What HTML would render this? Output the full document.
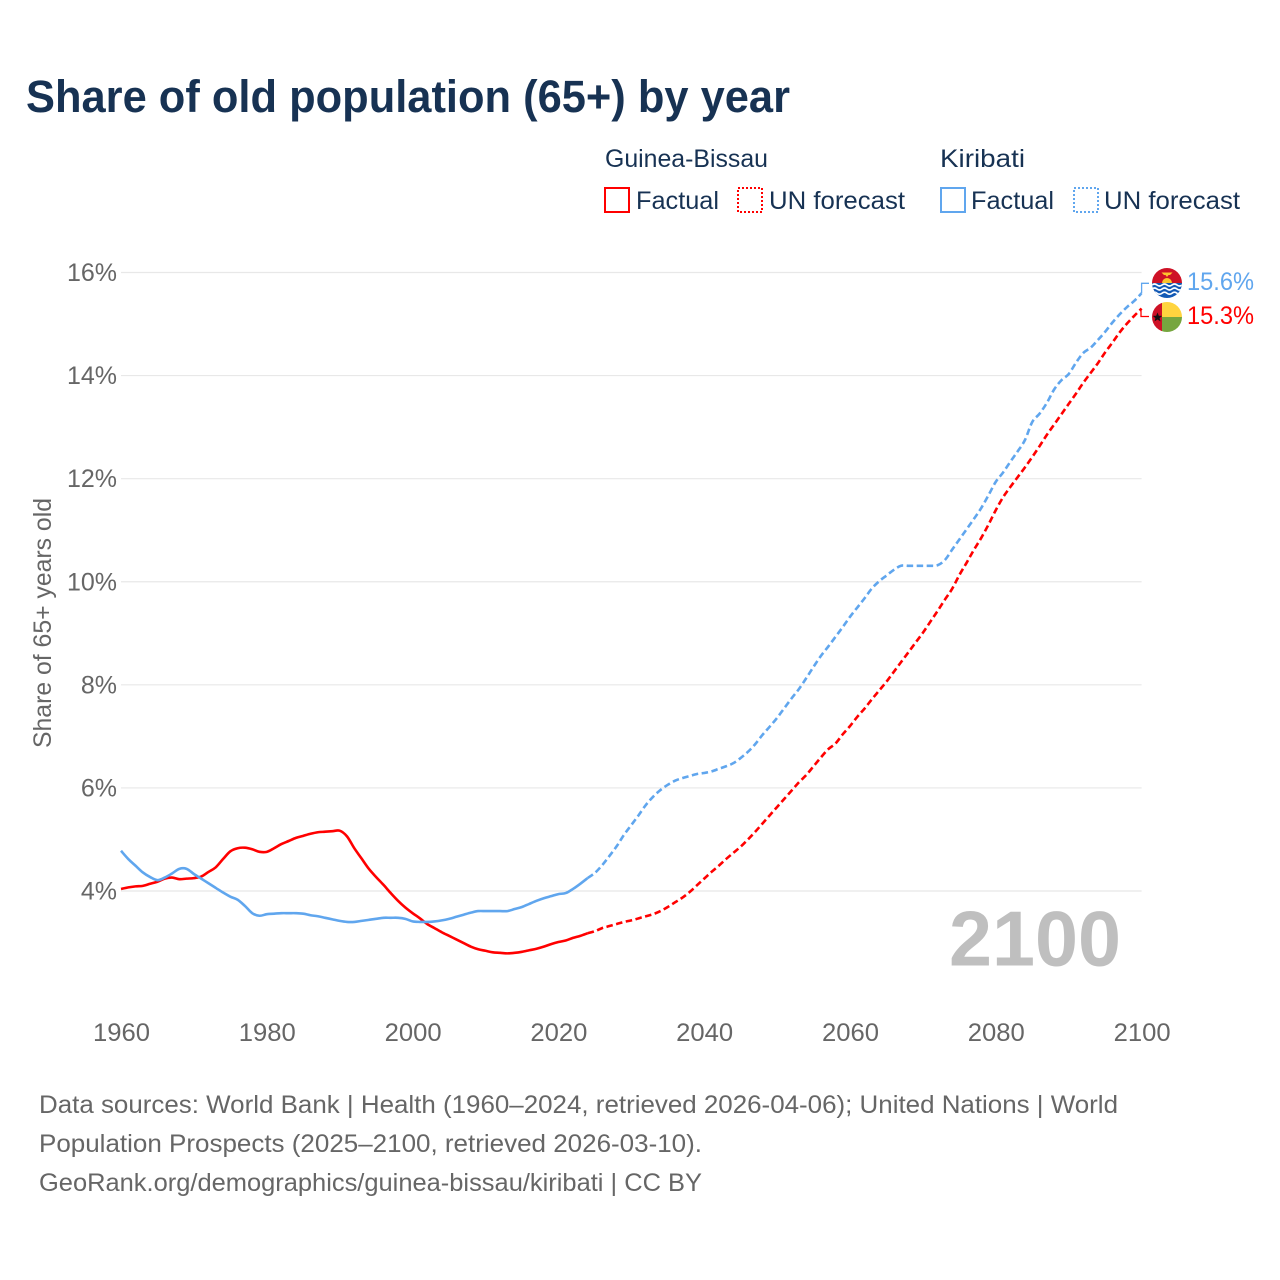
<!DOCTYPE html>
<html lang="en">
<head>
<meta charset="utf-8">
<title>Share of old population (65+) by year</title>
<style>
html,body{margin:0;padding:0;background:#fff;}
svg{display:block;font-family:"Liberation Sans",sans-serif;}
</style>
</head>
<body>
<svg id="chart" xmlns="http://www.w3.org/2000/svg" width="1280" height="1280" viewBox="0 0 1280 1280">
  <rect width="1280" height="1280" fill="#ffffff"/>
  <text x="26" y="112" font-size="45.5" font-weight="700" fill="#173253" textLength="764" lengthAdjust="spacingAndGlyphs">Share of old population (65+) by year</text>

  <g font-size="25" fill="#173253">
    <text x="605" y="167" textLength="163" lengthAdjust="spacingAndGlyphs">Guinea-Bissau</text>
    <text x="940" y="167" textLength="85" lengthAdjust="spacingAndGlyphs">Kiribati</text>
    <rect x="605" y="188" width="24" height="24" fill="none" stroke="#ff0000" stroke-width="2"/>
    <text x="636" y="209" textLength="83" lengthAdjust="spacingAndGlyphs">Factual</text>
    <rect x="738" y="188" width="24" height="24" fill="none" stroke="#ff0000" stroke-width="2" stroke-dasharray="2 2"/>
    <text x="769" y="209" textLength="136" lengthAdjust="spacingAndGlyphs">UN forecast</text>
    <rect x="941" y="188" width="24" height="24" fill="none" stroke="#60a6ee" stroke-width="2"/>
    <text x="971" y="209" textLength="83" lengthAdjust="spacingAndGlyphs">Factual</text>
    <rect x="1074" y="188" width="24" height="24" fill="none" stroke="#60a6ee" stroke-width="2" stroke-dasharray="2 2"/>
    <text x="1104" y="209" textLength="136" lengthAdjust="spacingAndGlyphs">UN forecast</text>
  </g>

  <g id="grid"></g>
  <g id="yticks" font-size="25" fill="#666666"></g>
  <g id="xticks" font-size="25" fill="#666666"></g>
  <text transform="translate(51,748) rotate(-90)" font-size="25" fill="#666666" textLength="250" lengthAdjust="spacingAndGlyphs">Share of 65+ years old</text>

  <text x="949" y="965.5" font-size="78" font-weight="700" fill="#bfbfbf" textLength="172" lengthAdjust="spacingAndGlyphs">2100</text>

  <g id="series"></g>

  <path d="M1149 283.3H1141.6V293" fill="none" stroke="#60a6ee" stroke-width="1.3"/>
  <path d="M1149 316.5H1141V308.5" fill="none" stroke="#ff0000" stroke-width="1.3"/>

  <defs>
    <clipPath id="clip-ki"><circle cx="1167" cy="283" r="15"/></clipPath>
    <clipPath id="clip-gw"><circle cx="1167" cy="317" r="15"/></clipPath>
  </defs>
  <g clip-path="url(#clip-ki)">
    <rect x="1152" y="268" width="30" height="15.5" fill="#ce1126"/>
    <rect x="1152" y="283" width="30" height="16" fill="#1259b5"/>
    <path d="M1162 283a5 5 0 0 1 10 0z" fill="#fcc42e"/>
    <path d="M1161.5 272.5h11l-2.5 2.5h-1.5l-1.5 2-1.5-2h-1.5z" fill="#fcc42e"/>
    <path d="M1152 285q2.5-2 5 0t5 0t5 0t5 0t5 0t5 0M1152 289q2.5-2 5 0t5 0t5 0t5 0t5 0t5 0M1152 293.2q2.5-2 5 0t5 0t5 0t5 0t5 0t5 0" fill="none" stroke="#ffffff" stroke-width="1.6"/>
  </g>
  <g clip-path="url(#clip-gw)">
    <rect x="1152" y="302" width="10" height="30" fill="#ce1126"/>
    <rect x="1162" y="302" width="20" height="15" fill="#ffd43f"/>
    <rect x="1162" y="317" width="20" height="15" fill="#76a63f"/>
    <path d="M1157.5 312.5l1.3 3.2 3.4.2-2.6 2.2.9 3.3-3-1.9-3 1.9.9-3.3-2.6-2.2 3.4-.2z" fill="#111111"/>
  </g>

  <text x="1187" y="290" font-size="25" fill="#60a6ee" textLength="67" lengthAdjust="spacingAndGlyphs">15.6%</text>
  <text x="1187" y="324" font-size="25" fill="#ff0000" textLength="67" lengthAdjust="spacingAndGlyphs">15.3%</text>

  <g font-size="25" fill="#666666">
    <text x="39" y="1113" textLength="1079" lengthAdjust="spacingAndGlyphs">Data sources: World Bank | Health (1960–2024, retrieved 2026-04-06); United Nations | World</text>
    <text x="39" y="1152" textLength="663" lengthAdjust="spacingAndGlyphs">Population Prospects (2025–2100, retrieved 2026-03-10).</text>
    <text x="39" y="1191" textLength="663" lengthAdjust="spacingAndGlyphs">GeoRank.org/demographics/guinea-bissau/kiribati | CC BY</text>
  </g>
</svg>

<script>
const yTickValues = [4, 6, 8, 10, 12, 14, 16];
const xTickYears = [1960, 1980, 2000, 2020, 2040, 2060, 2080, 2100];
const firstYear = 1960;
const lastFactualYear = 2024;

const guineaBissauValues = [
4.04,4.07,4.09,4.10,4.14,4.18,4.24,4.26,4.23,4.24,
4.25,4.28,4.37,4.46,4.62,4.77,4.83,4.84,4.81,4.76,
4.76,4.83,4.91,4.97,5.03,5.07,5.11,5.14,5.15,5.16,
5.17,5.06,4.83,4.63,4.43,4.27,4.12,3.96,3.81,3.68,
3.57,3.47,3.36,3.28,3.20,3.13,3.06,2.99,2.92,2.87,
2.84,2.81,2.80,2.79,2.80,2.82,2.85,2.88,2.92,2.97,
3.01,3.04,3.09,3.13,3.18,3.22,3.28,3.32,3.36,3.40,
3.43,3.47,3.51,3.55,3.61,3.69,3.78,3.87,3.98,4.11,
4.24,4.37,4.49,4.62,4.74,4.86,5.00,5.15,5.31,5.47,
5.63,5.79,5.95,6.11,6.25,6.42,6.59,6.75,6.86,7.04,
7.20,7.38,7.54,7.72,7.89,8.06,8.25,8.44,8.63,8.82,
9.01,9.22,9.43,9.65,9.86,10.13,10.37,10.62,10.85,11.11,
11.39,11.64,11.84,12.03,12.22,12.42,12.63,12.85,13.05,13.25,
13.45,13.65,13.86,14.05,14.24,14.45,14.64,14.84,15.01,15.16,
15.30];

const kiribatiValues = [
4.78,4.62,4.49,4.36,4.27,4.21,4.26,4.34,4.43,4.43,
4.33,4.24,4.15,4.06,3.97,3.89,3.83,3.71,3.57,3.52,
3.55,3.56,3.57,3.57,3.57,3.56,3.53,3.51,3.48,3.45,
3.42,3.40,3.40,3.42,3.44,3.46,3.48,3.48,3.48,3.46,
3.41,3.40,3.40,3.41,3.43,3.46,3.50,3.54,3.58,3.61,
3.61,3.61,3.61,3.61,3.65,3.69,3.75,3.81,3.86,3.90,
3.94,3.96,4.04,4.14,4.25,4.35,4.50,4.68,4.87,5.09,
5.28,5.47,5.67,5.83,5.96,6.06,6.14,6.19,6.23,6.27,
6.29,6.32,6.37,6.42,6.48,6.58,6.70,6.85,7.03,7.19,
7.36,7.55,7.74,7.92,8.13,8.35,8.56,8.74,8.93,9.12,
9.32,9.50,9.68,9.87,10.01,10.12,10.23,10.31,10.31,10.31,
10.31,10.31,10.32,10.42,10.62,10.82,11.02,11.22,11.43,11.68,
11.94,12.12,12.33,12.53,12.75,13.10,13.26,13.47,13.73,13.91,
14.03,14.25,14.44,14.54,14.69,14.85,15.03,15.19,15.33,15.45,
15.60];

const SVG_NS = 'http://www.w3.org/2000/svg';
function xScale(year) { return 121 + (year - 1960) * (1141.6 - 121) / 140; }
function yScale(value) { return 891 - (value - 4) * (891 - 272.5) / 12; }

const gridGroup = document.getElementById('grid');
const yTickGroup = document.getElementById('yticks');
const xTickGroup = document.getElementById('xticks');
const seriesGroup = document.getElementById('series');

yTickValues.forEach(function (v) {
  const line = document.createElementNS(SVG_NS, 'line');
  
  
  line.setAttribute('x1', 121);
  line.setAttribute('x2', 1141.6);
  line.setAttribute('y1', yScale(v));
  line.setAttribute('y2', yScale(v));
  line.setAttribute('stroke', '#e8e8e8');
  line.setAttribute('stroke-width', '1.2');
  gridGroup.appendChild(line);

  const label = document.createElementNS(SVG_NS, 'text');
  
  
  label.setAttribute('x', 117);
  label.setAttribute('y', yScale(v) + 8.5);
  label.setAttribute('text-anchor', 'end');
  label.textContent = v + '%';
  yTickGroup.appendChild(label);
});

xTickYears.forEach(function (year) {
  const label = document.createElementNS(SVG_NS, 'text');
  
  
  label.setAttribute('x', xScale(year) + 0.5);
  label.setAttribute('y', 1041);
  label.setAttribute('text-anchor', 'middle');
  label.setAttribute('textLength', '57');
  label.setAttribute('lengthAdjust', 'spacingAndGlyphs');
  label.textContent = year;
  xTickGroup.appendChild(label);
});

function linePath(values, fromYear, toYear) {
  const pts = [];
  values.forEach(function (v, i) {
    const year = firstYear + i;
    if (year < fromYear || year > toYear) return;
    pts.push([xScale(year), yScale(v)]);
  });
  let d = 'M' + pts[0][0].toFixed(2) + ' ' + pts[0][1].toFixed(2);
  for (let i = 0; i < pts.length - 1; i++) {
    const p0 = pts[Math.max(i - 1, 0)];
    const p1 = pts[i];
    const p2 = pts[i + 1];
    const p3 = pts[Math.min(i + 2, pts.length - 1)];
    const c1x = p1[0] + (p2[0] - p0[0]) / 6;
    const c1y = p1[1] + (p2[1] - p0[1]) / 6;
    const c2x = p2[0] - (p3[0] - p1[0]) / 6;
    const c2y = p2[1] - (p3[1] - p1[1]) / 6;
    d += 'C' + c1x.toFixed(2) + ' ' + c1y.toFixed(2) + ' ' + c2x.toFixed(2) + ' ' + c2y.toFixed(2) + ' ' + p2[0].toFixed(2) + ' ' + p2[1].toFixed(2);
  }
  return d;
}

function drawSeries(values, color, factualName, forecastName) {
  const lastYear = firstYear + values.length - 1;

  const forecast = document.createElementNS(SVG_NS, 'path');
  
  
  forecast.setAttribute('d', linePath(values, lastFactualYear, lastYear));
  forecast.setAttribute('fill', 'none');
  forecast.setAttribute('stroke', color);
  forecast.setAttribute('stroke-width', '2.6');
  forecast.setAttribute('stroke-dasharray', '6.5 3.5');
  seriesGroup.appendChild(forecast);

  const factual = document.createElementNS(SVG_NS, 'path');
  
  
  factual.setAttribute('d', linePath(values, firstYear, lastFactualYear));
  factual.setAttribute('fill', 'none');
  factual.setAttribute('stroke', color);
  factual.setAttribute('stroke-width', '2.6');
  factual.setAttribute('stroke-linejoin', 'round');
  seriesGroup.appendChild(factual);
}

drawSeries(guineaBissauValues, '#ff0000', 'guinea-bissau-factual-line', 'guinea-bissau-forecast-line');
drawSeries(kiribatiValues, '#60a6ee', 'kiribati-factual-line', 'kiribati-forecast-line');
</script>
</body>
</html>
